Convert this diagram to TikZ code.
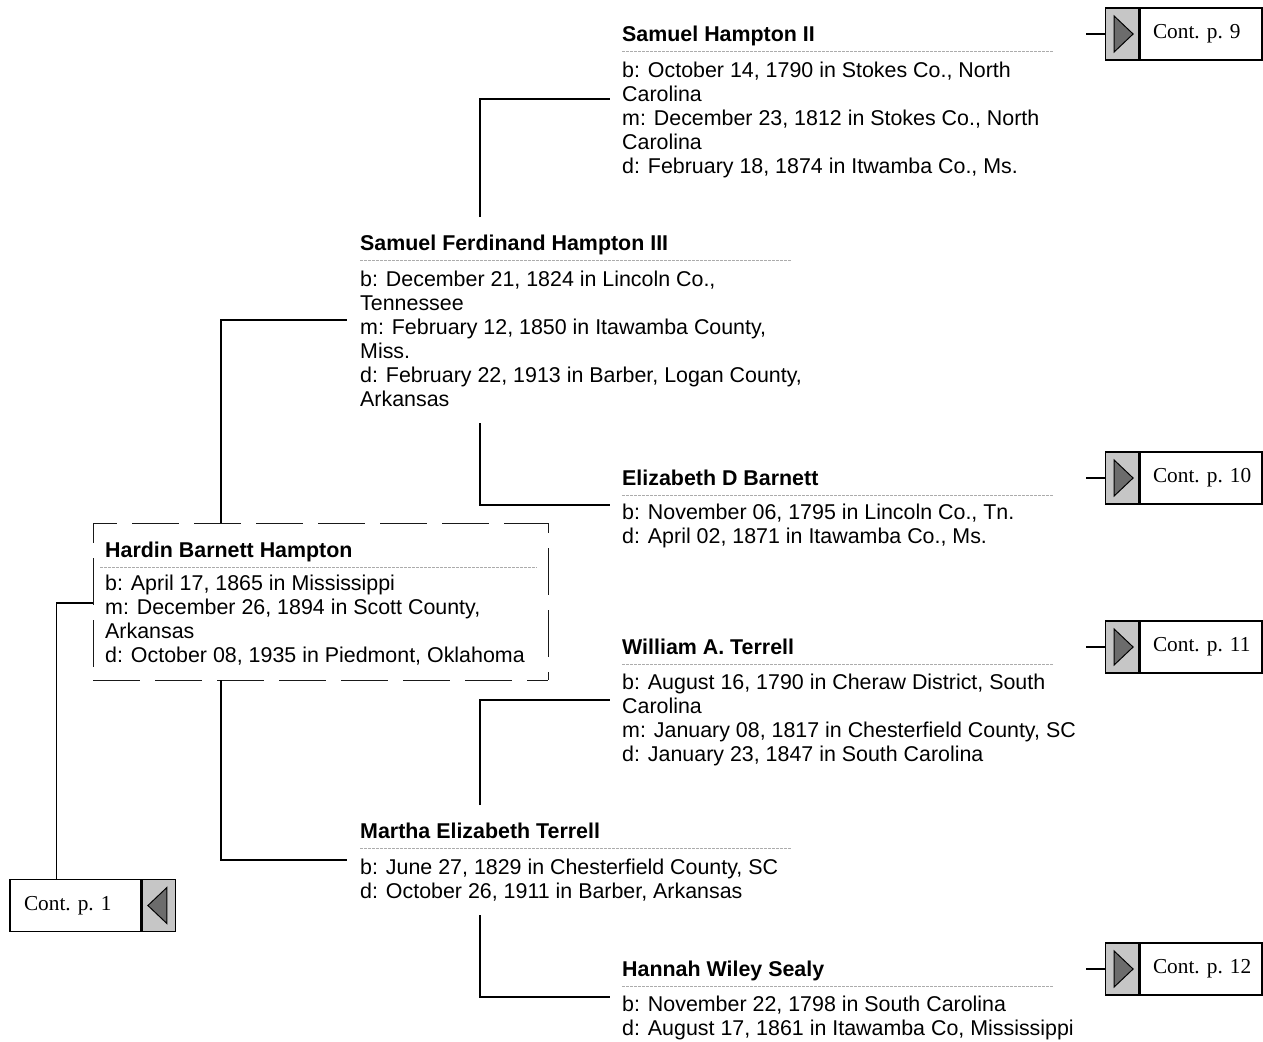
\documentclass[tikz,border=0pt]{standalone}
\usepackage{fontspec}
\setmainfont{Liberation Sans}
\newfontfamily\contfont{Liberation Serif}
\usetikzlibrary{calc}

\tikzset{
  pname/.style={anchor=base west, inner sep=0pt, font=\bfseries\fontsize{21.4}{24}\selectfont},
  pinfo/.style={anchor=base west, inner sep=0pt, align=left, font=\fontsize{21.4}{24}\selectfont},
  dotsep/.style={gray!65, line width=1pt, dash pattern=on 2.5pt off 1.5pt},
  link/.style={line width=1.6pt},
  focus/.style={gray!20!black, line width=1pt, dash pattern=on 47pt off 15pt},
  contbox/.style={draw, line width=1.4pt, fill=white, minimum height=52pt, inner sep=0pt, align=left, font=\contfont\frenchspacing\fontsize{21.3}{24}\selectfont},
  contarrow/.style={draw, line width=1.4pt, fill=gray!45, minimum width=33pt, minimum height=52pt, inner sep=0pt},
  tri/.style={draw, line width=1pt, fill=gray!85!black}
}

\begin{document}
\begin{tikzpicture}[x=1pt, y=-1pt, line cap=butt, line join=miter]
    \useasboundingbox (0,0) rectangle (1263,1041);

    % generation 3 (right column); info nodes sit on their last baseline
    \node[pname] (sh2) at (622,42) {Samuel Hampton II};
    \draw[dotsep] ($(sh2.base west)+(0,10)$) -- ++(432,0);
    \node[pinfo] (sh2d) at (622,173) {b: October 14, 1790 in Stokes Co., North\\Carolina\\m: December 23, 1812 in Stokes Co., North\\Carolina\\d: February 18, 1874 in Itwamba Co., Ms.};

    \node[pname] (edb) at (622,485) {Elizabeth D Barnett};
    \draw[dotsep] ($(edb.base west)+(0,10)$) -- ++(432,0);
    \node[pinfo] (edbd) at (622,543) {b: November 06, 1795 in Lincoln Co., Tn.\\d: April 02, 1871 in Itawamba Co., Ms.};

    \node[pname] (wat) at (622,654) {William A. Terrell};
    \draw[dotsep] ($(wat.base west)+(0,10)$) -- ++(432,0);
    \node[pinfo] (watd) at (622,761) {b: August 16, 1790 in Cheraw District, South\\Carolina\\m: January 08, 1817 in Chesterfield County, SC\\d: January 23, 1847 in South Carolina};

    \node[pname] (hws) at (622,976) {Hannah Wiley Sealy};
    \draw[dotsep] ($(hws.base west)+(0,10)$) -- ++(432,0);
    \node[pinfo] (hwsd) at (622,1035) {b: November 22, 1798 in South Carolina\\d: August 17, 1861 in Itawamba Co, Mississippi};

    % generation 2 (middle column)
    \node[pname] (sfh) at (360,250) {Samuel Ferdinand Hampton III};
    \draw[dotsep] ($(sfh.base west)+(0,10)$) -- ++(432,0);
    \node[pinfo] (sfhd) at (360,406) {b: December 21, 1824 in Lincoln Co.,\\Tennessee\\m: February 12, 1850 in Itawamba County,\\Miss.\\d: February 22, 1913 in Barber, Logan County,\\Arkansas};

    \node[pname] (met) at (360,838) {Martha Elizabeth Terrell};
    \draw[dotsep] ($(met.base west)+(0,10)$) -- ++(432,0);
    \node[pinfo] (metd) at (360,898) {b: June 27, 1829 in Chesterfield County, SC\\d: October 26, 1911 in Barber, Arkansas};

    % generation 1 (focus person)
    \node[pname] (hbh) at (105,557) {Hardin Barnett Hampton};
    \draw[dotsep] ($(hbh.base west)+(-5,10)$) -- ++(437,0);
    \node[pinfo] (hbhd) at (105,662) {b: April 17, 1865 in Mississippi\\m: December 26, 1894 in Scott County,\\Arkansas\\d: October 08, 1935 in Piedmont, Oklahoma};
    \draw[focus, dash phase=23pt] (93,523) -- (548,523);
    \draw[focus, dash phase=27pt] (93,523) -- (93,680);
    \draw[focus] (93,680) -- (548,680);
    \draw[focus, dash phase=37pt] (548,523) -- (548,680);

    % connector end points
    \coordinate (sfhUp)   at (480,217);
    \coordinate (sh2In)   at (610,99);
    \coordinate (sfhDown) at (480,423);
    \coordinate (edbIn)   at (610,505);
    \coordinate (hbhUp)   at (221,523);
    \coordinate (sfhIn)   at (347,320);
    \coordinate (hbhDown) at (221,680);
    \coordinate (metIn)   at (347,860);
    \coordinate (metUp)   at (480,805);
    \coordinate (watIn)   at (610,700);
    \coordinate (metDown) at (480,915);
    \coordinate (hwsIn)   at (610,997);
    \coordinate (hbhIn)   at (93,603);

    % parent links
    \draw[link] (sfhUp)   |- (sh2In);
    \draw[link] (sfhDown) |- (edbIn);
    \draw[link] (hbhUp)   |- (sfhIn);
    \draw[link] (hbhDown) |- (metIn);
    \draw[link] (metUp)   |- (watIn);
    \draw[link] (metDown) |- (hwsIn);

    % continuation boxes
    \foreach \pg/\yy in {9/34, 10/478, 11/647, 12/969}{
      \node[contbox, text width=122pt] (c\pg) at (1201,\yy) {\hspace*{13pt}Cont. p. \pg};
      \node[contarrow, anchor=east] (c\pg a) at (c\pg.west) {};
      \draw[tri] ($(c\pg a.center)+(-8,-18)$) -- ($(c\pg a.center)+(11,0)$) -- ($(c\pg a.center)+(-8,18)$) -- cycle;
      \draw[link] (c\pg a.west) -- ++(-19,0);
    }

    \node[contbox, text width=131pt] (c1) at (75.5,905.5) {\hspace*{14pt}Cont. p. 1};
    \node[contarrow, anchor=west] (c1a) at (c1.east) {};
    \draw[tri] ($(c1a.center)+(8,-18)$) -- ($(c1a.center)+(-11,0)$) -- ($(c1a.center)+(8,18)$) -- cycle;
    \draw[link] ($(c1.north west)+(47,0)$) |- (hbhIn);
\end{tikzpicture}
\end{document}
